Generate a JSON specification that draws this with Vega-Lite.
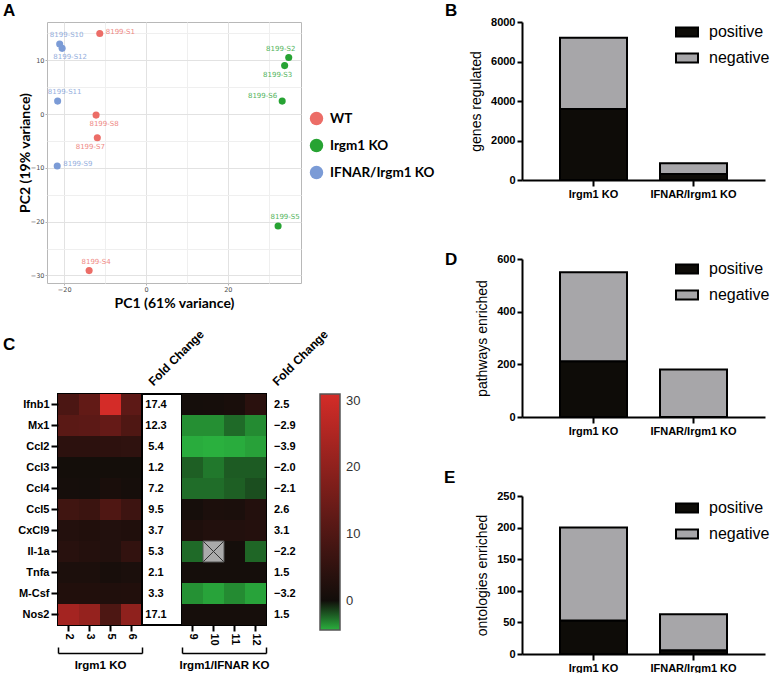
{
  "$schema": "https://vega.github.io/schema/vega-lite/v6.json",
  "padding": {"left": 2, "top": 1, "right": 0, "bottom": 0},
  "background": "white",
  "config": {
    "view": {"stroke": null},
    "font": "Liberation Sans",
    "axis": {"labelFont": "Liberation Sans", "titleFont": "Liberation Sans"},
    "legend": {"labelFont": "Liberation Sans"},
    "title": {"font": "Liberation Sans", "fontSize": 17, "fontWeight": "bold", "anchor": "start", "frame": "group", "color": "black"}
  },
  "datasets": {
    "pca": [
      {"sample": "8199-S1", "group": "WT", "pc1": -11.3, "pc2": 14.95},
      {"sample": "8199-S4", "group": "WT", "pc1": -13.9, "pc2": -29.1},
      {"sample": "8199-S7", "group": "WT", "pc1": -11.9, "pc2": -4.4},
      {"sample": "8199-S8", "group": "WT", "pc1": -12.2, "pc2": -0.2},
      {"sample": "8199-S2", "group": "Irgm1 KO", "pc1": 34.9, "pc2": 10.5},
      {"sample": "8199-S3", "group": "Irgm1 KO", "pc1": 33.9, "pc2": 9.0},
      {"sample": "8199-S5", "group": "Irgm1 KO", "pc1": 32.3, "pc2": -20.8},
      {"sample": "8199-S6", "group": "Irgm1 KO", "pc1": 33.3, "pc2": 2.4},
      {"sample": "8199-S9", "group": "IFNAR/Irgm1 KO", "pc1": -21.7, "pc2": -9.65},
      {"sample": "8199-S10", "group": "IFNAR/Irgm1 KO", "pc1": -21.1, "pc2": 13.0},
      {"sample": "8199-S11", "group": "IFNAR/Irgm1 KO", "pc1": -21.6, "pc2": 2.4},
      {"sample": "8199-S12", "group": "IFNAR/Irgm1 KO", "pc1": -20.5, "pc2": 12.2}
    ],
    "heat": [
      {"gene": "Ifnb1", "panel": "L", "sample": "2", "value": 9.2},
      {"gene": "Ifnb1", "panel": "L", "sample": "3", "value": 12.9},
      {"gene": "Ifnb1", "panel": "L", "sample": "5", "value": 31},
      {"gene": "Ifnb1", "panel": "L", "sample": "6", "value": 12.1},
      {"gene": "Mx1", "panel": "L", "sample": "2", "value": 11.6},
      {"gene": "Mx1", "panel": "L", "sample": "3", "value": 11.9},
      {"gene": "Mx1", "panel": "L", "sample": "5", "value": 13.3},
      {"gene": "Mx1", "panel": "L", "sample": "6", "value": 9.8},
      {"gene": "Ccl2", "panel": "L", "sample": "2", "value": 4.3},
      {"gene": "Ccl2", "panel": "L", "sample": "3", "value": 4.3},
      {"gene": "Ccl2", "panel": "L", "sample": "5", "value": 4.4},
      {"gene": "Ccl2", "panel": "L", "sample": "6", "value": 4.8},
      {"gene": "Ccl3", "panel": "L", "sample": "2", "value": 0.5},
      {"gene": "Ccl3", "panel": "L", "sample": "3", "value": 0.5},
      {"gene": "Ccl3", "panel": "L", "sample": "5", "value": 0.5},
      {"gene": "Ccl3", "panel": "L", "sample": "6", "value": 0.5},
      {"gene": "Ccl4", "panel": "L", "sample": "2", "value": 0.8},
      {"gene": "Ccl4", "panel": "L", "sample": "3", "value": 0.7},
      {"gene": "Ccl4", "panel": "L", "sample": "5", "value": 1.4},
      {"gene": "Ccl4", "panel": "L", "sample": "6", "value": 0.8},
      {"gene": "Ccl5", "panel": "L", "sample": "2", "value": 7.5},
      {"gene": "Ccl5", "panel": "L", "sample": "3", "value": 6.6},
      {"gene": "Ccl5", "panel": "L", "sample": "5", "value": 9.8},
      {"gene": "Ccl5", "panel": "L", "sample": "6", "value": 7.0},
      {"gene": "CxCl9", "panel": "L", "sample": "2", "value": 2.9},
      {"gene": "CxCl9", "panel": "L", "sample": "3", "value": 2.5},
      {"gene": "CxCl9", "panel": "L", "sample": "5", "value": 2.7},
      {"gene": "CxCl9", "panel": "L", "sample": "6", "value": 2.4},
      {"gene": "Il-1a", "panel": "L", "sample": "2", "value": 3.7},
      {"gene": "Il-1a", "panel": "L", "sample": "3", "value": 3.0},
      {"gene": "Il-1a", "panel": "L", "sample": "5", "value": 2.7},
      {"gene": "Il-1a", "panel": "L", "sample": "6", "value": 5.3},
      {"gene": "Tnfa", "panel": "L", "sample": "2", "value": 1.7},
      {"gene": "Tnfa", "panel": "L", "sample": "3", "value": 1.7},
      {"gene": "Tnfa", "panel": "L", "sample": "5", "value": 1.1},
      {"gene": "Tnfa", "panel": "L", "sample": "6", "value": 1.6},
      {"gene": "M-Csf", "panel": "L", "sample": "2", "value": 2.5},
      {"gene": "M-Csf", "panel": "L", "sample": "3", "value": 2.5},
      {"gene": "M-Csf", "panel": "L", "sample": "5", "value": 2.4},
      {"gene": "M-Csf", "panel": "L", "sample": "6", "value": 2.5},
      {"gene": "Nos2", "panel": "L", "sample": "2", "value": 23.3},
      {"gene": "Nos2", "panel": "L", "sample": "3", "value": 21},
      {"gene": "Nos2", "panel": "L", "sample": "5", "value": 9.5},
      {"gene": "Nos2", "panel": "L", "sample": "6", "value": 20},
      {"gene": "Ifnb1", "panel": "R", "sample": "9", "value": 0.6},
      {"gene": "Ifnb1", "panel": "R", "sample": "10", "value": 0.8},
      {"gene": "Ifnb1", "panel": "R", "sample": "11", "value": 1.3},
      {"gene": "Ifnb1", "panel": "R", "sample": "12", "value": 4.0},
      {"gene": "Mx1", "panel": "R", "sample": "9", "value": -3.5},
      {"gene": "Mx1", "panel": "R", "sample": "10", "value": -3.5},
      {"gene": "Mx1", "panel": "R", "sample": "11", "value": -2.5},
      {"gene": "Mx1", "panel": "R", "sample": "12", "value": -3.4},
      {"gene": "Ccl2", "panel": "R", "sample": "9", "value": -4.3},
      {"gene": "Ccl2", "panel": "R", "sample": "10", "value": -4.4},
      {"gene": "Ccl2", "panel": "R", "sample": "11", "value": -4.3},
      {"gene": "Ccl2", "panel": "R", "sample": "12", "value": -4.0},
      {"gene": "Ccl3", "panel": "R", "sample": "9", "value": -2.2},
      {"gene": "Ccl3", "panel": "R", "sample": "10", "value": -2.9},
      {"gene": "Ccl3", "panel": "R", "sample": "11", "value": -2.1},
      {"gene": "Ccl3", "panel": "R", "sample": "12", "value": -2.1},
      {"gene": "Ccl4", "panel": "R", "sample": "9", "value": -2.6},
      {"gene": "Ccl4", "panel": "R", "sample": "10", "value": -2.6},
      {"gene": "Ccl4", "panel": "R", "sample": "11", "value": -2.2},
      {"gene": "Ccl4", "panel": "R", "sample": "12", "value": -1.75},
      {"gene": "Ccl5", "panel": "R", "sample": "9", "value": 0.8},
      {"gene": "Ccl5", "panel": "R", "sample": "10", "value": 1.7},
      {"gene": "Ccl5", "panel": "R", "sample": "11", "value": 1.6},
      {"gene": "Ccl5", "panel": "R", "sample": "12", "value": 2.9},
      {"gene": "CxCl9", "panel": "R", "sample": "9", "value": 2.0},
      {"gene": "CxCl9", "panel": "R", "sample": "10", "value": 2.7},
      {"gene": "CxCl9", "panel": "R", "sample": "11", "value": 2.7},
      {"gene": "CxCl9", "panel": "R", "sample": "12", "value": 3.0},
      {"gene": "Il-1a", "panel": "R", "sample": "9", "value": -2.5},
      {"gene": "Il-1a", "panel": "R", "sample": "10", "value": null},
      {"gene": "Il-1a", "panel": "R", "sample": "11", "value": 0.6},
      {"gene": "Il-1a", "panel": "R", "sample": "12", "value": -2.4},
      {"gene": "Tnfa", "panel": "R", "sample": "9", "value": 0.7},
      {"gene": "Tnfa", "panel": "R", "sample": "10", "value": 0.7},
      {"gene": "Tnfa", "panel": "R", "sample": "11", "value": 0.7},
      {"gene": "Tnfa", "panel": "R", "sample": "12", "value": 0.7},
      {"gene": "M-Csf", "panel": "R", "sample": "9", "value": -3.55},
      {"gene": "M-Csf", "panel": "R", "sample": "10", "value": -4.05},
      {"gene": "M-Csf", "panel": "R", "sample": "11", "value": -3.4},
      {"gene": "M-Csf", "panel": "R", "sample": "12", "value": -4.05},
      {"gene": "Nos2", "panel": "R", "sample": "9", "value": 0.8},
      {"gene": "Nos2", "panel": "R", "sample": "10", "value": 0.8},
      {"gene": "Nos2", "panel": "R", "sample": "11", "value": 0.8},
      {"gene": "Nos2", "panel": "R", "sample": "12", "value": 0.8}
    ],
    "fc": [
      {"gene": "Ifnb1", "fc1": 17.4, "fc2": 2.5},
      {"gene": "Mx1", "fc1": 12.3, "fc2": -2.9},
      {"gene": "Ccl2", "fc1": 5.4, "fc2": -3.9},
      {"gene": "Ccl3", "fc1": 1.2, "fc2": -2.0},
      {"gene": "Ccl4", "fc1": 7.2, "fc2": -2.1},
      {"gene": "Ccl5", "fc1": 9.5, "fc2": 2.6},
      {"gene": "CxCl9", "fc1": 3.7, "fc2": 3.1},
      {"gene": "Il-1a", "fc1": 5.3, "fc2": -2.2},
      {"gene": "Tnfa", "fc1": 2.1, "fc2": 1.5},
      {"gene": "M-Csf", "fc1": 3.3, "fc2": -3.2},
      {"gene": "Nos2", "fc1": 17.1, "fc2": 1.5}
    ]
  },
  "resolve": {"scale": {"color": "independent"}},
  "spacing": 8,
  "hconcat": [
    {
      "spacing": 15,
      "align": "none",
      "resolve": {"scale": {"color": "independent"}},
      "vconcat": [
        {
          "width": 254,
          "height": 261,
          "title": {"text": "A", "dx": -44, "offset": 2},
          "view": {"stroke": "#b8b8b8", "strokeWidth": 1},
          "data": {"name": "pca"},
          "encoding": {
            "x": {"field": "pc1", "type": "quantitative", "scale": {"domain": [-24.2, 37.9], "nice": false, "zero": false},
              "axis": {"title": "PC1 (61% variance)", "values": [-20, -10, 0, 10, 20, 30],
                "labelExpr": "datum.value % 20 == 0 ? datum.label : ''",
                "grid": true, "gridColor": {"condition": {"test": "datum.value % 20 == 0", "value": "#e2e2e2"}, "value": "#efefef"},
                "domain": false, "tickSize": 2, "tickColor": "#b3b3b3",
                "tickOpacity": {"condition": {"test": "datum.value % 20 == 0", "value": 1}, "value": 0},
                "labelFont": "DejaVu Sans", "labelFontSize": 6.5, "labelColor": "#4d4d4d", "labelPadding": 1,
                "titleFont": "Lato", "titleFontSize": 14, "titleFontWeight": "bold", "titleColor": "black", "titlePadding": 4}},
            "y": {"field": "pc2", "type": "quantitative", "scale": {"domain": [-31.4, 17.1], "nice": false, "zero": false},
              "axis": {"title": "PC2 (19% variance)", "values": [-30, -25, -20, -15, -10, -5, 0, 5, 10, 15],
                "labelExpr": "datum.value % 10 == 0 ? datum.label : ''",
                "grid": true, "gridColor": {"condition": {"test": "datum.value % 10 == 0", "value": "#e2e2e2"}, "value": "#efefef"},
                "domain": false, "tickSize": 2, "tickColor": "#b3b3b3",
                "tickOpacity": {"condition": {"test": "datum.value % 10 == 0", "value": 1}, "value": 0},
                "labelFont": "DejaVu Sans", "labelFontSize": 6.5, "labelColor": "#4d4d4d", "labelPadding": 1,
                "titleFont": "Lato", "titleFontSize": 14, "titleFontWeight": "bold", "titleColor": "black", "titlePadding": -2}},
            "color": {"field": "group", "type": "nominal",
              "scale": {"domain": ["WT", "Irgm1 KO", "IFNAR/Irgm1 KO"], "range": ["#ec6d67", "#27a333", "#7b9bd6"]},
              "legend": {"title": null, "orient": "none", "legendX": 262, "legendY": 89, "symbolType": "circle", "symbolSize": 180,
                "symbolOpacity": 1, "labelFont": "Lato", "labelFontSize": 13.5, "labelFontWeight": "bold", "labelColor": "black",
                "rowPadding": 12, "labelOffset": 6, "padding": 0}}
          },
          "layer": [
            {"mark": {"type": "point", "filled": true, "size": 50, "opacity": 1}},
            {"transform": [{"filter": {"field": "sample", "oneOf": ["8199-S10", "8199-S11", "8199-S4", "8199-S5"]}}],
              "mark": {"type": "text", "dx": 7, "dy": -9, "fontSize": 7, "font": "DejaVu Sans", "opacity": 0.8},
              "encoding": {"text": {"field": "sample"}}},
            {"transform": [{"filter": {"field": "sample", "oneOf": ["8199-S12", "8199-S8"]}}],
              "mark": {"type": "text", "dx": 8, "dy": 9, "fontSize": 7, "font": "DejaVu Sans", "opacity": 0.8},
              "encoding": {"text": {"field": "sample"}}},
            {"transform": [{"filter": {"field": "sample", "oneOf": ["8199-S7", "8199-S3"]}}],
              "mark": {"type": "text", "dx": -7, "dy": 9, "fontSize": 7, "font": "DejaVu Sans", "opacity": 0.8},
              "encoding": {"text": {"field": "sample"}}},
            {"transform": [{"filter": {"field": "sample", "oneOf": ["8199-S2"]}}],
              "mark": {"type": "text", "dx": -8, "dy": -9, "fontSize": 7, "font": "DejaVu Sans", "opacity": 0.8},
              "encoding": {"text": {"field": "sample"}}},
            {"transform": [{"filter": {"field": "sample", "oneOf": ["8199-S1", "8199-S9"]}}],
              "mark": {"type": "text", "align": "left", "dx": 6, "dy": -2, "fontSize": 7, "font": "DejaVu Sans", "opacity": 0.8},
              "encoding": {"text": {"field": "sample"}}},
            {"transform": [{"filter": {"field": "sample", "oneOf": ["8199-S6"]}}],
              "mark": {"type": "text", "align": "right", "dx": -5, "dy": -5, "fontSize": 7, "font": "DejaVu Sans", "opacity": 0.8},
              "encoding": {"text": {"field": "sample"}}}
          ]
        },
        {
          "spacing": 0,
          "bounds": "flush",
          "hconcat": [
            {
              "width": 11,
              "height": 231,
              "data": {"values": [{}]},
              "mark": {"type": "point", "opacity": 0},
              "encoding": {}
            },
            {
              "width": 84,
              "height": 231,
              "title": {"text": "C", "dx": -55, "offset": 40},
              "view": {"stroke": "black", "strokeWidth": 2},
              "data": {"name": "heat"},
              "resolve": {"scale": {"x": "independent"}, "axis": {"x": "independent"}},
              "layer": [
                {
                  "transform": [{"filter": "datum.panel == 'L'"}],
                  "mark": "rect",
                  "encoding": {
                    "x": {"field": "sample", "type": "ordinal", "sort": ["2", "3", "5", "6"],
                      "axis": {"title": null, "labelAngle": 90, "labelFontWeight": "bold", "labelFontSize": 11, "labelColor": "black",
                        "tickColor": "black", "tickWidth": 2, "tickSize": 6, "domain": false, "labelPadding": 2}},
                    "y": {"field": "gene", "type": "nominal", "sort": ["Ifnb1", "Mx1", "Ccl2", "Ccl3", "Ccl4", "Ccl5", "CxCl9", "Il-1a", "Tnfa", "M-Csf", "Nos2"],
                      "axis": {"title": null, "labelFontWeight": "bold", "labelFontSize": 11, "labelColor": "black",
                        "tickColor": "black", "tickWidth": 2, "tickSize": 7, "domain": false, "labelPadding": 2}},
                    "color": {"field": "value", "type": "quantitative",
                      "scale": {"domain": [-4.4, 0, 31], "range": ["#2ab03e", "#110d0a", "#d42c28"], "interpolate": "rgb"},
                      "legend": {"title": null, "orient": "right", "offset": -10, "gradientLength": 236, "gradientThickness": 20,
                        "values": [0, 10, 20, 30], "labelFont": "Liberation Sans", "labelFontSize": 13, "labelColor": "#333",
                        "gradientStrokeColor": "#555", "gradientStrokeWidth": 1.5, "labelOffset": 6, "direction": "vertical"}}
                  }
                },
                {
                  "data": {"values": [{}]},
                  "mark": {"type": "rule", "opacity": 0},
                  "encoding": {
                    "x": {"datum": 0, "type": "quantitative", "scale": {"domain": [0, 1]},
                      "axis": {"orient": "bottom", "values": [0, 1], "offset": 28, "labels": false, "tickSize": -6, "tickWidth": 1.5,
                        "tickColor": "black", "domainColor": "black", "domainWidth": 1.5, "grid": false,
                        "title": "Irgm1 KO", "titleFontSize": 11.5, "titleFontWeight": "bold", "titleColor": "black", "titlePadding": 6}}
                  }
                }
              ]
            },
            {
              "width": 40,
              "height": 231,
              "view": {"stroke": "black", "strokeWidth": 2, "fill": "white"},
              "data": {"name": "fc"},
              "mark": {"type": "text", "font": "Liberation Sans", "fontWeight": "bold", "fontSize": 11, "dx": -6},
              "encoding": {
                "x": {"datum": "Fold Change", "type": "nominal",
                  "axis": {"orient": "top", "title": null, "labelAngle": -45, "labelFontSize": 12, "labelFontWeight": "bold", "labelColor": "black",
                    "domain": false, "ticks": false, "labelOffset": -7, "labelPadding": 6, "labelAlign": "left", "labelBaseline": "bottom"}},
                "y": {"field": "gene", "type": "nominal", "sort": ["Ifnb1", "Mx1", "Ccl2", "Ccl3", "Ccl4", "Ccl5", "CxCl9", "Il-1a", "Tnfa", "M-Csf", "Nos2"], "axis": null},
                "text": {"field": "fc1", "type": "quantitative", "format": ".1f"}
              }
            },
            {
              "width": 84,
              "height": 231,
              "view": {"stroke": "black", "strokeWidth": 2},
              "data": {"name": "heat"},
              "resolve": {"scale": {"x": "independent"}, "axis": {"x": "independent"}},
              "layer": [
                {
                  "transform": [{"filter": "datum.panel == 'R'"}],
                  "encoding": {
                    "x": {"field": "sample", "type": "ordinal", "sort": ["9", "10", "11", "12"],
                      "axis": {"title": null, "labelAngle": 90, "labelFontWeight": "bold", "labelFontSize": 11, "labelColor": "black",
                        "tickColor": "black", "tickWidth": 2, "tickSize": 6, "domain": false, "labelPadding": 2}},
                    "y": {"field": "gene", "type": "nominal", "sort": ["Ifnb1", "Mx1", "Ccl2", "Ccl3", "Ccl4", "Ccl5", "CxCl9", "Il-1a", "Tnfa", "M-Csf", "Nos2"], "axis": null}
                  },
                  "layer": [
                    {
                      "transform": [{"filter": "datum.value != null"}],
                      "mark": "rect",
                      "encoding": {
                        "color": {"field": "value", "type": "quantitative",
                          "scale": {"domain": [-4.4, 0, 31], "range": ["#2ab03e", "#110d0a", "#d42c28"], "interpolate": "rgb"},
                          "legend": {"title": null, "orient": "right", "offset": -10, "gradientLength": 236, "gradientThickness": 20,
                            "values": [0, 10, 20, 30], "labelFont": "Liberation Sans", "labelFontSize": 13, "labelColor": "#333",
                            "gradientStrokeColor": "#555", "gradientStrokeWidth": 1.5, "labelOffset": 6, "direction": "vertical"}}
                      }
                    },
                    {
                      "transform": [{"filter": "datum.value == null"}],
                      "mark": {"type": "rect", "fill": "#aaaaaa", "stroke": "#555", "strokeWidth": 1}
                    },
                    {
                      "transform": [{"filter": "datum.value == null"}],
                      "mark": {"type": "point", "shape": "M-1,-1L1,1M-1,1L1,-1", "size": 400, "filled": false, "stroke": "#333", "strokeWidth": 1, "opacity": 1}
                    }
                  ]
                },
                {
                  "data": {"values": [{}]},
                  "mark": {"type": "rule", "opacity": 0},
                  "encoding": {
                    "x": {"datum": 0, "type": "quantitative", "scale": {"domain": [0, 1]},
                      "axis": {"orient": "bottom", "values": [0, 1], "offset": 28, "labels": false, "tickSize": -6, "tickWidth": 1.5,
                        "tickColor": "black", "domainColor": "black", "domainWidth": 1.5, "grid": false,
                        "title": "Irgm1/IFNAR KO", "titleFontSize": 11.5, "titleFontWeight": "bold", "titleColor": "black", "titlePadding": 6}}
                  }
                }
              ]
            },
            {
              "width": 30,
              "height": 231,
              "data": {"name": "fc"},
              "mark": {"type": "text", "font": "Liberation Sans", "fontWeight": "bold", "fontSize": 11, "align": "left", "dx": -7},
              "encoding": {
                "x": {"datum": "Fold Change", "type": "nominal",
                  "axis": {"orient": "top", "title": null, "labelAngle": -45, "labelFontSize": 12, "labelFontWeight": "bold", "labelColor": "black",
                    "domain": false, "ticks": false, "labelOffset": -2, "labelPadding": 6, "labelAlign": "left", "labelBaseline": "bottom"}},
                "y": {"field": "gene", "type": "nominal", "sort": ["Ifnb1", "Mx1", "Ccl2", "Ccl3", "Ccl4", "Ccl5", "CxCl9", "Il-1a", "Tnfa", "M-Csf", "Nos2"], "axis": null},
                "text": {"field": "fc2", "type": "quantitative", "format": ".1f"}
              }
            }
          ]
        }
      ]
    },
    {
      "spacing": 79,
      "bounds": "flush",
      "resolve": {"scale": {"color": "independent"}},
      "vconcat": [
        {
          "width": 243,
          "height": 158,
          "title": {"text": "B", "dx": -77, "offset": -4},
          "data": {"values": [
            {"genotype": "Irgm1 KO", "direction": "positive", "count": 3600},
            {"genotype": "Irgm1 KO", "direction": "negative", "count": 3600},
            {"genotype": "IFNAR/Irgm1 KO", "direction": "positive", "count": 300},
            {"genotype": "IFNAR/Irgm1 KO", "direction": "negative", "count": 550}
          ]},
          "mark": {"type": "bar", "stroke": "black", "strokeWidth": 2},
          "encoding": {
            "x": {"field": "genotype", "type": "nominal", "sort": ["Irgm1 KO", "IFNAR/Irgm1 KO"], "scale": {"paddingInner": 0.33, "paddingOuter": 0.38},
              "axis": {"title": null, "labelAngle": 0, "labelFont": "Liberation Sans", "labelFontWeight": "bold", "labelFontSize": 11, "labelColor": "black",
                "domainColor": "black", "domainWidth": 2, "tickColor": "black", "tickWidth": 2, "tickSize": 6, "labelPadding": 2}},
            "y": {"field": "count", "type": "quantitative", "scale": {"domain": [0, 8000], "nice": false},
              "axis": {"values": [0, 2000, 4000, 6000, 8000], "format": "d", "title": "genes regulated", "titleFont": "Liberation Sans", "titleFontSize": 14, "titleFontWeight": "normal",
                "titleColor": "black", "titlePadding": 7, "labelFont": "Liberation Sans", "labelFontWeight": "bold", "labelFontSize": 11, "labelColor": "black",
                "domainColor": "black", "domainWidth": 2, "tickColor": "black", "tickWidth": 2, "tickSize": 5, "grid": false, "labelPadding": 2}},
            "color": {"field": "direction", "type": "nominal", "scale": {"domain": ["positive", "negative"], "range": ["#0e0c08", "#a7a6a9"]},
              "legend": {"title": null, "orient": "none", "legendX": 153, "legendY": -2, "padding": 0, "symbolType": "M-1,-0.42L1,-0.42L1,0.42L-1,0.42Z",
                "symbolSize": 484, "symbolStrokeColor": "black", "symbolStrokeWidth": 2, "labelFont": "Liberation Sans", "labelFontSize": 16, "labelColor": "black",
                "labelOffset": 10, "rowPadding": 5}},
            "order": {"field": "direction", "sort": "descending"}
          }
        },
        {
          "width": 243,
          "height": 158,
          "title": {"text": "D", "dx": -77, "offset": -16},
          "data": {"values": [
            {"genotype": "Irgm1 KO", "direction": "positive", "count": 212},
            {"genotype": "Irgm1 KO", "direction": "negative", "count": 338},
            {"genotype": "IFNAR/Irgm1 KO", "direction": "positive", "count": 0},
            {"genotype": "IFNAR/Irgm1 KO", "direction": "negative", "count": 180}
          ]},
          "mark": {"type": "bar", "stroke": "black", "strokeWidth": 2},
          "encoding": {
            "x": {"field": "genotype", "type": "nominal", "sort": ["Irgm1 KO", "IFNAR/Irgm1 KO"], "scale": {"paddingInner": 0.33, "paddingOuter": 0.38},
              "axis": {"title": null, "labelAngle": 0, "labelFont": "Liberation Sans", "labelFontWeight": "bold", "labelFontSize": 11, "labelColor": "black",
                "domainColor": "black", "domainWidth": 2, "tickColor": "black", "tickWidth": 2, "tickSize": 6, "labelPadding": 2}},
            "y": {"field": "count", "type": "quantitative", "scale": {"domain": [0, 600], "nice": false},
              "axis": {"values": [0, 200, 400, 600], "format": "d", "title": "pathways enriched", "titleFont": "Liberation Sans", "titleFontSize": 14, "titleFontWeight": "normal",
                "titleColor": "black", "titlePadding": 7, "labelFont": "Liberation Sans", "labelFontWeight": "bold", "labelFontSize": 11, "labelColor": "black",
                "domainColor": "black", "domainWidth": 2, "tickColor": "black", "tickWidth": 2, "tickSize": 5, "grid": false, "labelPadding": 2}},
            "color": {"field": "direction", "type": "nominal", "scale": {"domain": ["positive", "negative"], "range": ["#0e0c08", "#a7a6a9"]},
              "legend": {"title": null, "orient": "none", "legendX": 153, "legendY": -2, "padding": 0, "symbolType": "M-1,-0.42L1,-0.42L1,0.42L-1,0.42Z",
                "symbolSize": 484, "symbolStrokeColor": "black", "symbolStrokeWidth": 2, "labelFont": "Liberation Sans", "labelFontSize": 16, "labelColor": "black",
                "labelOffset": 10, "rowPadding": 5}},
            "order": {"field": "direction", "sort": "descending"}
          }
        },
        {
          "width": 243,
          "height": 158,
          "title": {"text": "E", "dx": -78, "offset": 3},
          "data": {"values": [
            {"genotype": "Irgm1 KO", "direction": "positive", "count": 53},
            {"genotype": "Irgm1 KO", "direction": "negative", "count": 147},
            {"genotype": "IFNAR/Irgm1 KO", "direction": "positive", "count": 6},
            {"genotype": "IFNAR/Irgm1 KO", "direction": "negative", "count": 57}
          ]},
          "mark": {"type": "bar", "stroke": "black", "strokeWidth": 2},
          "encoding": {
            "x": {"field": "genotype", "type": "nominal", "sort": ["Irgm1 KO", "IFNAR/Irgm1 KO"], "scale": {"paddingInner": 0.33, "paddingOuter": 0.38},
              "axis": {"title": null, "labelAngle": 0, "labelFont": "Liberation Sans", "labelFontWeight": "bold", "labelFontSize": 11, "labelColor": "black",
                "domainColor": "black", "domainWidth": 2, "tickColor": "black", "tickWidth": 2, "tickSize": 6, "labelPadding": 2}},
            "y": {"field": "count", "type": "quantitative", "scale": {"domain": [0, 250], "nice": false},
              "axis": {"values": [0, 50, 100, 150, 200, 250], "format": "d", "title": "ontologies enriched", "titleFont": "Liberation Sans", "titleFontSize": 14, "titleFontWeight": "normal",
                "titleColor": "black", "titlePadding": 7, "labelFont": "Liberation Sans", "labelFontWeight": "bold", "labelFontSize": 11, "labelColor": "black",
                "domainColor": "black", "domainWidth": 2, "tickColor": "black", "tickWidth": 2, "tickSize": 5, "grid": false, "labelPadding": 2}},
            "color": {"field": "direction", "type": "nominal", "scale": {"domain": ["positive", "negative"], "range": ["#0e0c08", "#a7a6a9"]},
              "legend": {"title": null, "orient": "none", "legendX": 153, "legendY": 0, "padding": 0, "symbolType": "M-1,-0.42L1,-0.42L1,0.42L-1,0.42Z",
                "symbolSize": 484, "symbolStrokeColor": "black", "symbolStrokeWidth": 2, "labelFont": "Liberation Sans", "labelFontSize": 16, "labelColor": "black",
                "labelOffset": 10, "rowPadding": 5}},
            "order": {"field": "direction", "sort": "descending"}
          }
        }
      ]
    }
  ]
}
